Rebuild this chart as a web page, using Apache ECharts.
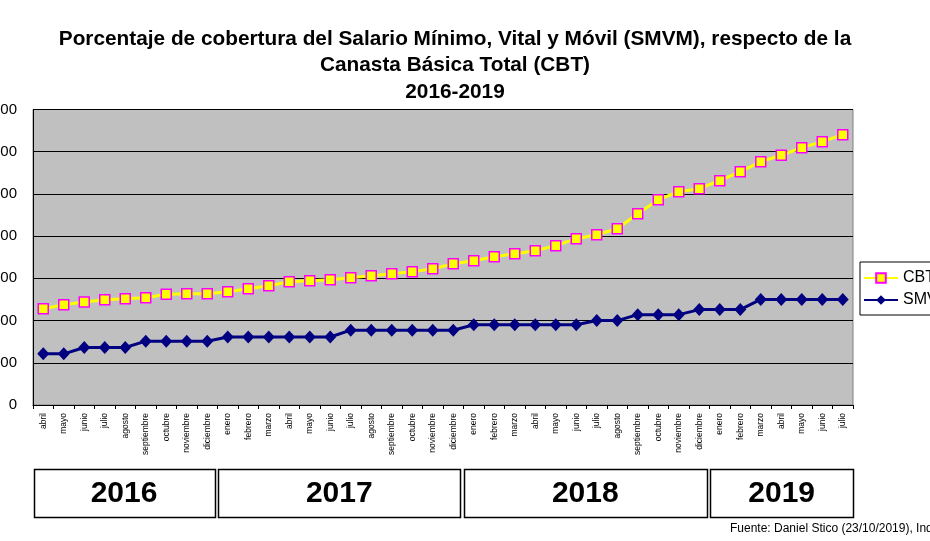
<!DOCTYPE html>
<html>
<head>
<meta charset="utf-8">
<script src="https://cdn.jsdelivr.net/npm/echarts@6/dist/echarts.min.js"></script>
<style>
  html, body { margin: 0; padding: 0; background: #fff; }
  #chart { width: 930px; height: 541px; }
</style>
</head>
<body>
<div id="chart"></div>
<script>
// meses abril 2016 - julio 2019
const categories = [
  'abril', 'mayo', 'junio', 'julio', 'agosto', 'septiembre', 'octubre', 'noviembre', 'diciembre',
  'enero', 'febrero', 'marzo', 'abril', 'mayo', 'junio', 'julio', 'agosto', 'septiembre', 'octubre', 'noviembre', 'diciembre',
  'enero', 'febrero', 'marzo', 'abril', 'mayo', 'junio', 'julio', 'agosto', 'septiembre', 'octubre', 'noviembre', 'diciembre',
  'enero', 'febrero', 'marzo', 'abril', 'mayo', 'junio', 'julio'
];
const years = ['2016', '2017', '2018', '2019'];
const monthsPerYear = [9, 12, 12, 7];

// Canasta Básica Total ($)
const cbt = [
  11400, 11880, 12200, 12470, 12590, 12710, 13110, 13180, 13180,
  13420, 13780, 14130, 14600, 14720, 14840, 15080, 15320, 15550, 15790, 16140, 16720,
  17090, 17570, 17920, 18280, 18870, 19700, 20170, 20880, 22660, 24320, 25260, 25620,
  26570, 27630, 28820, 29580, 30480, 31190, 32020
];
// Salario Mínimo, Vital y Móvil ($)
const smvm = [
  6060, 6060, 6810, 6810, 6810, 7560, 7560, 7560, 7560,
  8060, 8060, 8060, 8060, 8060, 8060, 8860, 8860, 8860, 8860, 8860, 8860,
  9500, 9500, 9500, 9500, 9500, 9500, 10000, 10000, 10700, 10700, 10700, 11300,
  11300, 11300, 12500, 12500, 12500, 12500, 12500
];
const yTicks = [0, 5000, 10000, 15000, 20000, 25000, 30000, 35000];

const chart = echarts.init(document.getElementById('chart'));

const option = {
  animation: false,
  backgroundColor: '#fff',
  textStyle: { fontFamily: 'Liberation Sans, Arial, sans-serif' },
  title: {
    text: 'Porcentaje de cobertura del Salario Mínimo, Vital y Móvil (SMVM), respecto de la\nCanasta Básica Total (CBT)\n2016-2019',
    left: 450,
    top: 21,
    textAlign: 'center',
    textStyle: { fontSize: 20.8, fontWeight: 'bold', color: '#000', lineHeight: 26.5 }
  },
  legend: {
    orient: 'vertical',
    left: 860,
    top: 262,
    padding: [8, 5, 7, 3],
    itemGap: 6,
    itemWidth: 34,
    itemHeight: 12,
    backgroundColor: '#fff',
    borderColor: '#000',
    borderWidth: 1,
    textStyle: { fontSize: 16, color: '#000' },
    data: ['CBT', 'SMVM']
  },
  grid: {
    left: 33, right: 77, top: 109.5, bottom: 136,
    containLabel: false,
    outerBoundsMode: 'none',
    show: true, backgroundColor: '#c0c0c0', borderColor: '#808080', borderWidth: 1
  },
  xAxis: {
    type: 'category',
    data: categories,
    boundaryGap: true,
    axisLine: { lineStyle: { color: '#000', width: 1 } },
    axisTick: { show: true, length: 4, lineStyle: { color: '#000' } },
    axisLabel: { interval: 0, rotate: 90, fontSize: 8.5, color: '#000', margin: 8 }
  },
  yAxis: {
    type: 'value',
    min: 0, max: 35000, interval: 5000,
    axisLine: { show: true, lineStyle: { color: '#000' } },
    axisTick: { show: false },
    splitLine: { lineStyle: { color: '#000', width: 1 } },
    axisLabel: {
      fontSize: 15, color: '#000', margin: 16,
      formatter: (v) => (yTicks.includes(v) ? String(v) : '')
    }
  },
  series: [
    {
      name: 'CBT',
      type: 'line',
      data: cbt,
      symbol: 'rect',
      symbolSize: 10,
      lineStyle: { color: '#ffff00', width: 3 },
      itemStyle: { color: '#ffff00', borderColor: '#ff00ff', borderWidth: 1.5 },
      z: 3
    },
    {
      name: 'SMVM',
      type: 'line',
      data: smvm,
      symbol: 'diamond',
      symbolSize: [12, 13],
      lineStyle: { color: '#000080', width: 3 },
      itemStyle: { color: '#000080' },
      z: 2
    }
  ]
};

chart.setOption(option);

// cajas de años bajo el eje, calculadas a partir de la escala de categorías
const graphics = [];
let start = 0;
years.forEach((y, i) => {
  const n = monthsPerYear[i];
  const x0 = chart.convertToPixel({ xAxisIndex: 0 }, start);
  const x1 = chart.convertToPixel({ xAxisIndex: 0 }, start + n - 1);
  const half = (chart.convertToPixel({ xAxisIndex: 0 }, 1) - chart.convertToPixel({ xAxisIndex: 0 }, 0)) / 2;
  const left = x0 - half + 0.5;
  const right = i === years.length - 1 ? x1 + half + 0.3 : x1 + half - 3;
  graphics.push({
    type: 'rect',
    shape: { x: Math.round(left) + 0.5, y: 469.5, width: Math.round(right - left), height: 48 },
    style: { fill: '#fff', stroke: '#000', lineWidth: 1.5 }
  });
  graphics.push({
    type: 'text',
    x: (left + right) / 2,
    y: 493.5,
    style: {
      text: y, fill: '#000', font: 'bold 30px "Liberation Sans", Arial, sans-serif',
      align: 'center', verticalAlign: 'middle'
    }
  });
  start += n;
});
graphics.push({
  type: 'text',
  x: 730,
  y: 535,
  style: {
    text: 'Fuente: Daniel Stico (23/10/2019), Indec',
    fill: '#000', font: '12px "Liberation Sans", Arial, sans-serif',
    align: 'left', verticalAlign: 'bottom'
  }
});
chart.setOption({ graphic: graphics });
</script>
</body>
</html>
